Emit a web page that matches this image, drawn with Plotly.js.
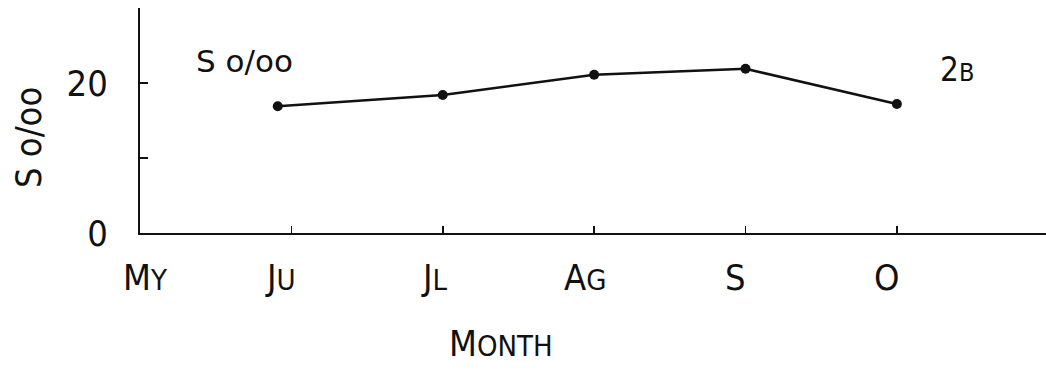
<!DOCTYPE html>
<html>
<head>
<meta charset="utf-8">
<script src="https://cdn.plot.ly/plotly-3.0.1.min.js"></script>
<style>
  html, body { margin: 0; padding: 0; background: #fff; }
  #chart { width: 1046px; height: 370px; }
</style>
</head>
<body>
<div id="chart"></div>
<script>
// Month axis: 0 = May ... 5 = October
const monthPos = [0, 1, 2, 3, 4, 5];
const monthCaps = ['M', 'J', 'J', 'A', 'S', 'O'];
const monthSmall = ['Y', 'U', 'L', 'G', '', ''];
const monthShift = [5, -11, -8, -9, -10, -10];

// Salinity samples (month position, S o/oo)
const sampleMonth = [0.91, 2, 3, 4, 5];
const salinity = [16.9, 18.4, 21.1, 21.9, 17.2];

// Salinity axis ticks
const yTickVals = [0, 10, 20, 30];
const yTickText = ['0', '', '20', ''];

const FONT = '"DejaVu Sans Condensed", "Liberation Sans", sans-serif';
const FONT_WIDE = '"DejaVu Sans", "Liberation Sans", sans-serif';
const INK = '#111';

const plotLeft = 140, plotTop = 8, plotBottom = 233, plotRight = 1046;
const plotW = plotRight - plotLeft, plotH = plotBottom - plotTop;
const px = x => (x - plotLeft) / plotW;     // pixel column -> paper x
const py = y => (plotBottom - y) / plotH;   // pixel row -> paper y

function smallCaps(big, small, size) {
  return small ? big + '<span style="font-size:' + size + 'px">' + small + '</span>' : big;
}

const monthAnnotations = monthPos.map((p, i) => ({
  x: p, xref: 'x', y: py(277), yref: 'paper',
  text: smallCaps(monthCaps[i], monthSmall[i], 29),
  showarrow: false, xanchor: 'center', yanchor: 'middle',
  xshift: monthShift[i],
  font: { family: FONT, size: 36, color: INK }
}));

const trace = {
  x: sampleMonth,
  y: salinity,
  type: 'scatter',
  mode: 'lines+markers',
  line: { color: INK, width: 2.6 },
  marker: { color: INK, size: 10, symbol: 'circle' },
  hoverinfo: 'x+y'
};

const layout = {
  width: 1046,
  height: 370,
  margin: { l: plotLeft, r: 1046 - plotRight, t: plotTop, b: 370 - plotBottom },
  paper_bgcolor: '#fff',
  plot_bgcolor: '#fff',
  showlegend: false,
  xaxis: {
    range: [0, 5.985],
    showgrid: false,
    zeroline: false,
    showline: true,
    linecolor: INK,
    linewidth: 2,
    tickmode: 'array',
    tickvals: monthPos.slice(1),
    ticktext: monthPos.slice(1).map(() => ''),
    ticks: 'inside',
    ticklen: 7,
    tickwidth: 1.5,
    tickcolor: INK,
    fixedrange: true
  },
  yaxis: {
    range: [0, 30],
    showgrid: false,
    zeroline: false,
    showline: true,
    linecolor: INK,
    linewidth: 2,
    tickmode: 'array',
    tickvals: yTickVals,
    ticktext: yTickText,
    ticks: 'inside',
    ticklen: 8,
    tickwidth: 2,
    tickcolor: INK,
    ticklabelstandoff: 23,
    tickfont: { family: FONT, size: 36, color: INK },
    fixedrange: true
  },
  annotations: monthAnnotations.concat([
    {
      // salinity axis title
      x: px(28), xref: 'paper', y: py(138), yref: 'paper',
      text: 'S o/oo', textangle: -90,
      showarrow: false, xanchor: 'center', yanchor: 'middle',
      font: { family: FONT, size: 36, color: INK }
    },
    {
      // month axis title
      x: px(501), xref: 'paper', y: py(343), yref: 'paper',
      text: 'M<span style="font-size:29px">ONTH</span>',
      showarrow: false, xanchor: 'center', yanchor: 'middle',
      font: { family: FONT, size: 36, color: INK }
    },
    {
      x: px(244), xref: 'paper', y: py(61), yref: 'paper',
      text: 'S o/oo',
      showarrow: false, xanchor: 'center', yanchor: 'middle',
      font: { family: FONT_WIDE, size: 31, color: INK }
    },
    {
      x: px(957), xref: 'paper', y: py(69), yref: 'paper',
      text: '2<span style="font-size:25px">B</span>',
      showarrow: false, xanchor: 'center', yanchor: 'middle',
      font: { family: FONT, size: 33, color: INK }
    }
  ])
};

Plotly.newPlot('chart', [trace], layout, { displayModeBar: false, staticPlot: true });
</script>
</body>
</html>
